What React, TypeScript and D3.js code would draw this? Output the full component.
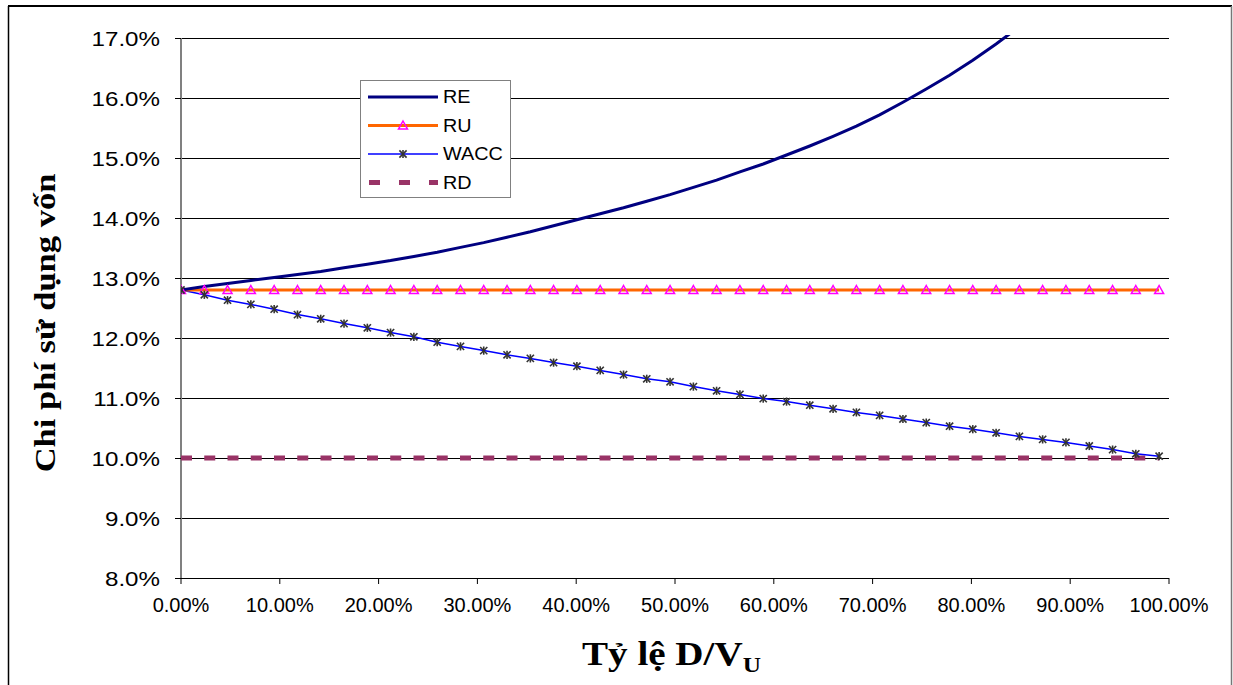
import * as d3 from "d3";

// D/V ratio (%) of each computed point
const ratios = [
  0, 2.36, 4.71, 7.07, 9.43, 11.79, 14.14, 16.5, 18.86, 21.21, 23.57, 25.93, 28.29, 30.64,
  33.0, 35.36, 37.71, 40.07, 42.43, 44.79, 47.14, 49.5, 51.86, 54.21, 56.57, 58.93, 61.29,
  63.64, 66.0, 68.36, 70.71, 73.07, 75.43, 77.79, 80.14, 82.5, 84.86, 87.21, 89.57, 91.93,
  94.29, 96.64, 99.0,
];

const reValues = [
  12.8, 12.86, 12.91, 12.96, 13.01, 13.06, 13.11, 13.17, 13.23, 13.29, 13.36, 13.43, 13.51,
  13.59, 13.68, 13.77, 13.87, 13.97, 14.07, 14.17, 14.28, 14.39, 14.51, 14.63, 14.77, 14.9,
  15.05, 15.2, 15.36, 15.53, 15.72, 15.93, 16.15, 16.38, 16.63, 16.9, 17.19, 17.5,
];

const ruValues = [
  12.8, 12.8, 12.8, 12.8, 12.8, 12.8, 12.8, 12.8, 12.8, 12.8, 12.8, 12.8, 12.8, 12.8, 12.8,
  12.8, 12.8, 12.8, 12.8, 12.8, 12.8, 12.8, 12.8, 12.8, 12.8, 12.8, 12.8, 12.8, 12.8, 12.8,
  12.8, 12.8, 12.8, 12.8, 12.8, 12.8, 12.8, 12.8, 12.8, 12.8, 12.8, 12.8, 12.8,
];

const waccValues = [
  12.8, 12.72, 12.63, 12.56, 12.48, 12.39, 12.32, 12.24, 12.17, 12.09, 12.02, 11.93, 11.86,
  11.79, 11.72, 11.66, 11.59, 11.53, 11.46, 11.39, 11.32, 11.27, 11.19, 11.12, 11.06, 10.99,
  10.94, 10.88, 10.82, 10.76, 10.71, 10.65, 10.59, 10.53, 10.48, 10.42, 10.36, 10.31, 10.26,
  10.2, 10.14, 10.07, 10.03,
];

const rdValues = [
  10, 10, 10, 10, 10, 10, 10, 10, 10, 10, 10, 10, 10, 10, 10, 10, 10, 10, 10, 10, 10, 10,
  10, 10, 10, 10, 10, 10, 10, 10, 10, 10, 10, 10, 10, 10, 10, 10, 10, 10, 10, 10, 10,
];

const xTicks = [0, 10, 20, 30, 40, 50, 60, 70, 80, 90, 100];
const yTicks = [8, 9, 10, 11, 12, 13, 14, 15, 16, 17];

const legendItems = ["RE", "RU", "WACC", "RD"];

const W = 1233;
const H = 685;
const plot = { left: 181, right: 1169, top: 38, bottom: 578 };
const sans = "'Liberation Sans', Arial, sans-serif";
const serif = "'Liberation Serif', 'Times New Roman', serif";
// the source's text renders a little wider than the local fonts
const stretch = 1.15;

function Star({ cx, cy, r = 3.6 }: { cx: number; cy: number; r?: number }) {
  return (
    <g stroke="#333" strokeWidth={1.6}>
      <line x1={cx - r} y1={cy - r} x2={cx + r} y2={cy + r} />
      <line x1={cx - r} y1={cy + r} x2={cx + r} y2={cy - r} />
      <line x1={cx} y1={cy - r - 0.5} x2={cx} y2={cy + r + 0.5} />
    </g>
  );
}

function Triangle({ cx, cy }: { cx: number; cy: number }) {
  const s = 4.5;
  return (
    <path
      d={`M${cx},${cy - s} L${cx + s},${cy + s * 0.8} L${cx - s},${cy + s * 0.8} Z`}
      fill="none"
      stroke="#ff00ff"
      strokeWidth={1.5}
    />
  );
}

export default function App() {
  const x = d3.scaleLinear().domain([0, 100]).range([plot.left, plot.right]);
  const y = d3.scaleLinear().domain([8, 17]).range([plot.bottom, plot.top]);

  const line = (vals: number[]) =>
    d3
      .line<number>()
      .x((_, i) => x(ratios[i]))
      .y((v) => y(v))(vals) || "";

  const legendY = (i: number) => 97 + i * 28.5;

  return (
    <div style={{ position: "fixed", left: 0, top: 0, width: W, height: H, background: "#fff" }}>
      <svg width={W} height={H} style={{ display: "block" }}>
        <defs>
          <clipPath id="plotClip">
            <rect x={plot.left} y={plot.top - 3} width={plot.right - plot.left + 10} height={plot.bottom - plot.top + 3} />
          </clipPath>
        </defs>

        {/* outer frame */}
        <line x1={8} y1={6} x2={1232} y2={6} stroke="#000" strokeWidth={2} />
        <line x1={8.5} y1={6} x2={8.5} y2={H} stroke="#000" strokeWidth={1.5} />
        <line x1={1231.5} y1={6} x2={1231.5} y2={H} stroke="#777" strokeWidth={1.5} />

        {/* gridlines */}
        {yTicks.slice(1).map((t) => (
          <line
            key={t}
            x1={plot.left}
            x2={plot.right}
            y1={y(t) + 0.5}
            y2={y(t) + 0.5}
            stroke="#000"
            strokeWidth={1}
            shapeRendering="crispEdges"
          />
        ))}

        {/* y axis */}
        <line x1={plot.left} x2={plot.left} y1={plot.top} y2={plot.bottom + 1} stroke="#808080" strokeWidth={2} />
        {yTicks.map((t) => (
          <g key={t}>
            <line
              x1={plot.left - 6}
              x2={plot.left}
              y1={y(t) + 0.5}
              y2={y(t) + 0.5}
              stroke="#000"
              strokeWidth={1}
              shapeRendering="crispEdges"
            />
            <text
              transform={`translate(160,${y(t)}) scale(${stretch},1)`}
              dy="0.36em"
              textAnchor="end"
              fontFamily={sans}
              fontSize={21}
              fill="#000"
            >
              {d3.format(".1f")(t)}%
            </text>
          </g>
        ))}

        {/* x axis */}
        <line
          x1={plot.left}
          x2={plot.right}
          y1={plot.bottom + 0.5}
          y2={plot.bottom + 0.5}
          stroke="#000"
          strokeWidth={1}
          shapeRendering="crispEdges"
        />
        {xTicks.map((t) => (
          <g key={t}>
            <line x1={x(t)} x2={x(t)} y1={plot.bottom} y2={plot.bottom + 6} stroke="#000" strokeWidth={1} />
            <text x={x(t)} y={612} textAnchor="middle" fontFamily={sans} fontSize={20} fill="#000">
              {d3.format(".2f")(t)}%
            </text>
          </g>
        ))}

        {/* series */}
        <g clipPath="url(#plotClip)">
          <path d={line(rdValues)} fill="none" stroke="#993366" strokeWidth={5} strokeDasharray="11,12.25" />
          <path d={line(waccValues)} fill="none" stroke="#0000ff" strokeWidth={1.5} />
          <path d={line(ruValues)} fill="none" stroke="#ff6600" strokeWidth={3} />
          <path d={line(reValues)} fill="none" stroke="#000080" strokeWidth={3} />
          {ruValues.map((v, i) => (
            <Triangle key={"ru" + i} cx={x(ratios[i])} cy={y(v)} />
          ))}
          {waccValues.map((v, i) => (
            <Star key={"w" + i} cx={x(ratios[i])} cy={y(v)} />
          ))}
        </g>

        {/* legend */}
        <rect x={360.5} y={80.5} width={150} height={117} fill="#fff" stroke="#808080" strokeWidth={1} />
        {legendItems.map((name, i) => {
          const ly = legendY(i);
          return (
            <g key={name}>
              {name === "RE" && <line x1={368} x2={438} y1={ly} y2={ly} stroke="#000080" strokeWidth={3} />}
              {name === "RU" && (
                <>
                  <line x1={368} x2={438} y1={ly} y2={ly} stroke="#ff6600" strokeWidth={3} />
                  <Triangle cx={403} cy={ly} />
                </>
              )}
              {name === "WACC" && (
                <>
                  <line x1={368} x2={438} y1={ly} y2={ly} stroke="#0000ff" strokeWidth={1.5} />
                  <Star cx={403} cy={ly} />
                </>
              )}
              {name === "RD" && (
                <line x1={369} x2={438} y1={ly} y2={ly} stroke="#993366" strokeWidth={5} strokeDasharray="11,19" />
              )}
              <text
                transform={`translate(443,${ly}) scale(1.1,1)`}
                dy="0.36em"
                fontFamily={sans}
                fontSize={18}
                fill="#000"
              >
                {name}
              </text>
            </g>
          );
        })}

        {/* axis titles */}
        <text
          transform={`translate(55,323) rotate(-90) scale(${stretch},1)`}
          textAnchor="middle"
          fontFamily={serif}
          fontWeight="bold"
          fontSize={30}
          fill="#000"
        >
          Chi phí sử dụng vốn
        </text>
        <text
          transform={`translate(582,665) scale(${stretch},1)`}
          fontFamily={serif}
          fontWeight="bold"
          fontSize={34}
          fill="#000"
        >
          Tỷ lệ D/V
          <tspan fontSize={22} dy={7}>
            U
          </tspan>
        </text>
      </svg>
    </div>
  );
}
